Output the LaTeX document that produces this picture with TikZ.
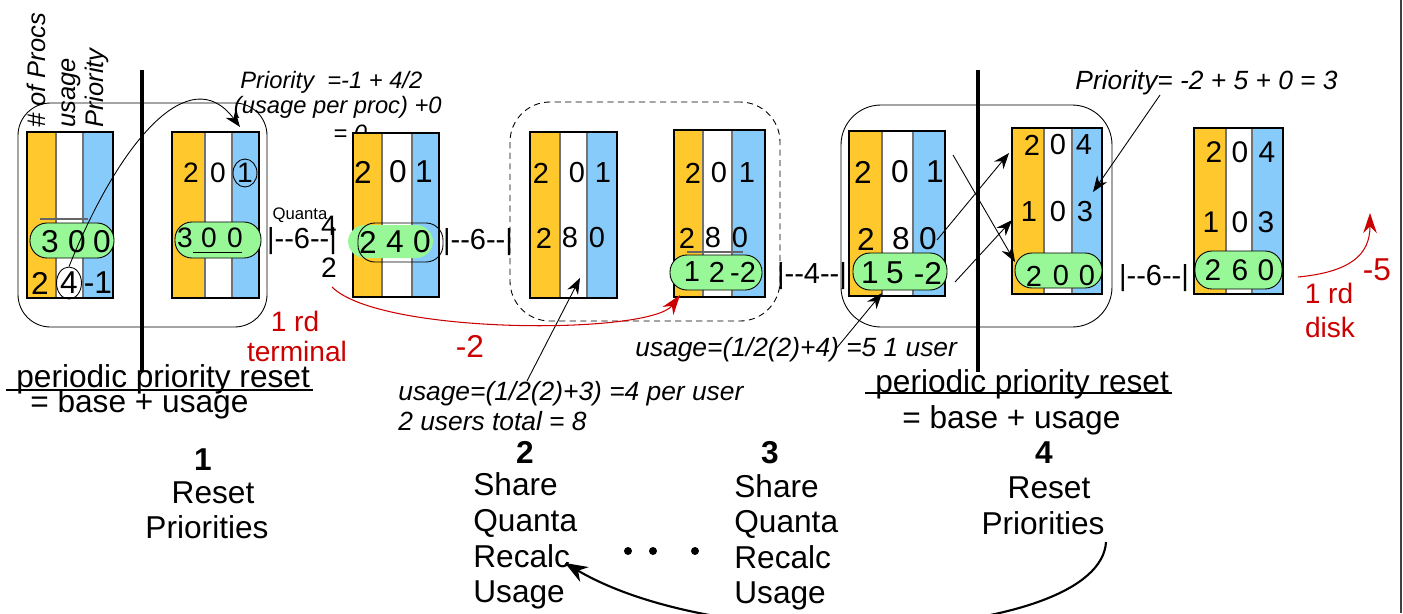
\documentclass[tikz,border=0pt]{standalone}
\usepackage{fontspec}
\setmainfont{Liberation Sans}
\usetikzlibrary{arrows.meta,fit,shapes.geometric}

\definecolor{procorange}{RGB}{255,200,44}
\definecolor{prioblue}{RGB}{135,203,250}
\definecolor{pillgreen}{RGB}{152,248,152}
\definecolor{notered}{RGB}{204,0,0}

\newcommand\fsz[1]{\fontsize{#1}{#1}\selectfont}

% one process table: three coloured columns in a heavy frame
\newcommand\procbox[7]{%
  \fill[procorange] (#2,#6) rectangle (#3,#7);
  \fill[white] (#3,#6) rectangle (#4,#7);
  \fill[prioblue] (#4,#6) rectangle (#5,#7);
  \draw[colsep] (#3,#6) -- (#3,#7) (#4,#6) -- (#4,#7);
  \node[boxframe, fit={(#2,#6) (#5,#7)}] (#1) {};}

% green highlight of the running row
\newcommand\pill[5]{\node[pill, fit={(#2,#3) (#4,#5)}] (#1) {};}

% a row of three values
\newcommand\drow[8]{%
  \node[dig] (#1a) at (#3,#2) {#4};
  \node[dig] (#1b) at (#5,#2) {#6};
  \node[dig] (#1c) at (#7,#2) {#8};}

\tikzset{
  boxframe/.style={draw, line width=1.2pt, inner sep=0pt},
  colsep/.style={draw=black!55, line width=0.6pt},
  pill/.style={fill=pillgreen, draw=black, line width=0.5pt, inner sep=0pt, rounded corners=0.34cm},
  dig/.style={inner sep=0pt, font=\fsz{17}},
  grpframe/.style={draw, line width=0.5pt, inner sep=0pt},
  hdr/.style={rotate=90, anchor=base west, inner sep=0pt, font=\fsz{14.5}\itshape},
  note/.style={inner sep=0pt, font=\fsz{15}\itshape},
  smallnote/.style={inner sep=0pt, font=\fsz{13.5}\itshape},
  quant/.style={inner sep=0pt, font=\fsz{16.5}},
  redlbl/.style={inner sep=0pt, text=notered, font=\fsz{16}, anchor=base},
  redbig/.style={inner sep=0pt, text=notered, font=\fsz{18}, anchor=base},
  bignum/.style={inner sep=0pt, font=\fsz{18}\bfseries, anchor=base},
  steplbl/.style={inner sep=0pt, font=\fsz{18}},
  resetline/.style={line width=2.3pt},
  underl/.style={line width=1.4pt},
  pointer/.style={line width=0.5pt, -{Stealth[length=0.32cm,width=0.24cm]}},
  redarrow/.style={draw=notered, line width=0.6pt, -{Stealth[length=0.4cm,width=0.27cm]}},
  looparrow/.style={line width=1.2pt, -{Stealth[length=0.45cm,width=0.34cm]}},
  cutline/.style={draw=black!60, line width=0.6pt},
  ring/.style={draw, ellipse, line width=0.5pt, inner sep=0pt},
  dot/.style={circle, fill, inner sep=0pt, minimum size=0.16cm},
}

\begin{document}
\begin{tikzpicture}[x=0.02cm,y=-0.02cm]
\useasboundingbox (0,0) rectangle (1403,613);

% page edge on the right
\coordinate (edgeTop) at (1401,0);
\coordinate (edgeBot) at (1401,613);
\draw[line width=0.9pt, black!75] (edgeTop) -- (edgeBot);

% grouping frames
\node[grpframe, rounded corners=0.65cm, fit={(18,103) (267,327)}] (grpA) {};
\node[grpframe, dashed, dash pattern=on 3.5pt off 2.5pt, rounded corners=0.8cm, fit={(510,102) (780,321)}] (grpB) {};
\node[grpframe, rounded corners=0.8cm, fit={(841,105) (1112,327)}] (grpC) {};

% periodic reset markers
\coordinate (resetAtop) at (142,70);
\coordinate (resetAbot) at (142,372);
\coordinate (resetBtop) at (978,70);
\coordinate (resetBbot) at (978,372);
\draw[resetline] (resetAtop) -- (resetAbot);
\draw[resetline] (resetBtop) -- (resetBbot);

% column headings
\node[hdr] (hProcs) at (45,128) {\# of Procs};
\node[hdr] (hUsage) at (75,128) {usage};
\node[hdr] (hPrio) at (103,128) {Priority};

% priority formula (partly hidden by the next table)
\node[smallnote, anchor=base west] (pfA) at (240,88) {Priority\ \ =-1 + 4/2};
\node[smallnote, anchor=base east] (pfB) at (442,113) {(usage per proc) +0};
\node[smallnote, anchor=base west] (pfC) at (333,141) {= 0};

\node[note, anchor=base east] (pfD) at (1338,89) {Priority= -2 + 5 + 0 = 3};

% ---------- table 1 ----------
\procbox{tA}{27}{56}{83}{113}{132}{298}
\draw[cutline] (40,219) -- (88,219);
\pill{pA}{30}{223}{114}{258}
\begin{scope}[dig/.append style={font=\fsz{18}}]
\drow{tAp}{242}{50}{3}{77}{0}{102}{0}
\drow{tAr}{283}{40}{2}{69}{4}{98}{-1}
\end{scope}
\node[ring, minimum width=0.5cm, minimum height=0.64cm] (ringA) at (69,283) {};

% ---------- table 2 ----------
\procbox{tB}{172}{205}{232}{259}{132}{298}
\pill{pB}{175}{222}{261}{258}
\begin{scope}[dig/.append style={font=\fsz{16}}]
\drow{tBr}{173}{191}{2}{218}{0}{245}{1}
\drow{tBp}{238}{185}{3}{209}{0}{235}{0}
\end{scope}
\draw[line width=0.5pt] (193,252) -- (242,252);
\node[ring, minimum width=0.48cm, minimum height=0.56cm] (ringB) at (245,173) {};

% quantum between tables 2 and 3
\node[quant] (qA) at (302,241) {|-{}-6-{}-|};
\node[inner sep=0pt, font=\fsz{9.5}] (qLbl) at (300,215) {Quanta};
\node[dig, font=\fsz{16}] (qNum) at (329,226) {4};
\node[dig, font=\fsz{16}] (qDen) at (329,268) {2};

% ---------- table 3 ----------
\procbox{tC}{353}{382}{412}{439}{133}{297}
\node[pill, draw=none, fit={(348,225) (433,258)}] (pC) {};
\begin{scope}[dig/.append style={font=\fsz{18}}]
\drow{tCr}{172}{363}{2}{398}{0}{424}{1}
\drow{tCp}{242}{368}{2}{395}{4}{422}{0}
\end{scope}
\node[pill, fill=none, fit={(358,223) (443,262)}] (pCring) {};

\node[quant] (qB) at (478,242) {|-{}-6-{}-|};

% ---------- table 4 ----------
\procbox{tD}{530}{560}{587}{617}{132}{298}
\begin{scope}[dig/.append style={font=\fsz{16.5}}]
\drow{tDr}{173}{541}{2}{577}{0}{603}{1}
\drow{tDs}{238}{544}{2}{570}{8}{597}{0}
\end{scope}

% ---------- table 5 ----------
\procbox{tE}{674}{703}{732}{765}{130}{297}
\draw[cutline] (687,252) -- (743,252);
\pill{pE}{670}{255}{762}{290}
\begin{scope}[dig/.append style={font=\fsz{16.5}}]
\drow{tEr}{173}{693}{2}{719}{0}{747}{1}
\drow{tEs}{238}{687}{2}{713}{8}{740}{0}
\drow{tEp}{272}{692}{1}{717}{2}{743}{-2}
\end{scope}

\node[quant] (qC) at (812,276) {|-{}-4-{}-|};

% ---------- table 6 ----------
\procbox{tF}{849}{882}{913}{945}{131}{296}
\pill{pF}{853}{253}{947}{290}
\begin{scope}[dig/.append style={font=\fsz{18}}]
\drow{tFr}{172}{863}{2}{900}{0}{935}{1}
\drow{tFs}{239}{866}{2}{901}{8}{928}{0}
\drow{tFp}{273}{870}{1}{895}{5}{928}{-2}
\end{scope}

% ---------- table 7 ----------
\procbox{tG}{1012}{1044}{1072}{1102}{128}{294}
\pill{pG}{1015}{253}{1102}{288}
\begin{scope}[dig/.append style={font=\fsz{16.5}}]
\drow{tGr}{145}{1032}{2}{1058}{0}{1084}{4}
\drow{tGs}{212}{1029}{1}{1058}{0}{1085}{3}
\drow{tGp}{276}{1034}{2}{1061}{0}{1087}{0}
\end{scope}

\node[quant] (qD) at (1154,278) {|-{}-6-{}-|};

% ---------- table 8 ----------
\procbox{tH}{1194}{1226}{1252}{1283}{128}{294}
\pill{pH}{1195}{251}{1282}{289}
\begin{scope}[dig/.append style={font=\fsz{17}}]
\drow{tHr}{152}{1214}{2}{1240}{0}{1267}{4}
\drow{tHs}{222}{1211}{1}{1240}{0}{1266}{3}
\drow{tHp}{270}{1213}{2}{1240}{6}{1266}{0}
\end{scope}

% usage notes
\node[note, anchor=base west] (uA) at (398,400) {usage=(1/2(2)+3) =4 per user};
\node[note, anchor=base west] (uB) at (398,430) {2 users total = 8};
\node[note, anchor=base west] (uC) at (635,356) {usage=(1/2(2)+4) =5 1 user};

% red event labels
\node[redlbl] (rdA) at (295,331) {1 rd};
\node[redlbl] (rdB) at (297,361) {terminal};
\node[redbig] (rdC) at (470,357) {-2};
\node[redbig] (rdD) at (1377,280) {-5};
\node[redlbl] (rdE) at (1329,303) {1 rd};
\node[redlbl] (rdF) at (1330,337) {disk};

% reset captions
\node[steplbl, anchor=base west] (capA) at (16,387) {periodic priority reset};
\draw[underl] (6,390) -- (313,390);
\node[steplbl, anchor=base west] (capB) at (30,412) {= base + usage};
\node[steplbl, anchor=base west] (capC) at (875,392) {periodic priority reset};
\draw[underl] (865,393) -- (1172,393);
\node[steplbl, anchor=base west] (capD) at (902,428) {= base + usage};

% numbered phases
\node[bignum] (nA) at (203,470) {1};
\node[steplbl, anchor=base] (nAa) at (213,503) {Reset};
\node[steplbl, anchor=base] (nAb) at (207,538) {Priorities};

\node[bignum] (nB) at (525,463) {2};
\node[steplbl, anchor=base west] (nBa) at (473,495) {Share};
\node[steplbl, anchor=base west] (nBb) at (473,531) {Quanta};
\node[steplbl, anchor=base west] (nBc) at (473,567) {Recalc};
\node[steplbl, anchor=base west] (nBd) at (473,602) {Usage};

\node[bignum] (nC) at (770,463) {3};
\node[steplbl, anchor=base west] (nCa) at (734,497) {Share};
\node[steplbl, anchor=base west] (nCb) at (734,532) {Quanta};
\node[steplbl, anchor=base west] (nCc) at (734,568) {Recalc};
\node[steplbl, anchor=base west] (nCd) at (734,603) {Usage};

\node[bignum] (nD) at (1044,463) {4};
\node[steplbl, anchor=base] (nDa) at (1049,498) {Reset};
\node[steplbl, anchor=base] (nDb) at (1043,534) {Priorities};

\node[dot] (dotA) at (628,551) {};
\node[dot] (dotB) at (653,551) {};
\node[dot] (dotC) at (695,551) {};

% ---------- connectors ----------
\coordinate (loopTip) at (240,127);
\draw[pointer] (ringA.north) .. controls (120,140) and (190,60) .. (loopTip);

\coordinate (uAtail) at (527,381);
\coordinate (uAtip) at (580,278);
\draw[pointer] (uAtail) -- (uAtip);

\coordinate (uCtail) at (835,350);
\coordinate (uCtip) at (882,293);
\draw[pointer] (uCtail) -- (uCtip);

\coordinate (xAtail) at (937,240);
\coordinate (xAtip) at (1009,153);
\draw[pointer] (xAtail) -- (xAtip);
\coordinate (xBtail) at (955,282);
\coordinate (xBtip) at (1012,220);
\draw[pointer] (xBtail) -- (xBtip);
\coordinate (xCtail) at (953,155);
\coordinate (xCtip) at (1015,262);
\draw[pointer] (xCtail) -- (xCtip);

\coordinate (pfDtail) at (1160,95);
\coordinate (pfDtip) at (1093,192);
\draw[pointer] (pfDtail) -- (pfDtip);

\coordinate (termStart) at (332,287);
\coordinate (termTip) at (680,295);
\draw[redarrow] (termStart) .. controls (380,335) and (650,335) .. (termTip);

\coordinate (diskStart) at (1298,277);
\coordinate (diskTip) at (1370,213);
\draw[redarrow] (diskStart) .. controls (1350,272) and (1370,255) .. (diskTip);

\coordinate (cycStart) at (1106,542);
\coordinate (cycTip) at (565,563);
\draw[looparrow] (cycStart) .. controls (1100,640) and (730,660) .. (cycTip);

\end{tikzpicture}
\end{document}
